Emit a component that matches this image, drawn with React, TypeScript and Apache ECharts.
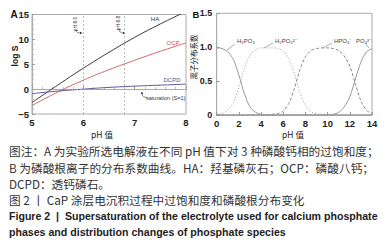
import React, { useEffect, useRef } from "react";
import * as echarts from "echarts";

// Panel A: supersaturation (log S) vs pH
const phA = [5, 5.5, 6, 6.5, 7, 7.5, 8];
const haVals = [-2.7, 0.8, 4.2, 7.4, 10.4, 13.1, 15.6];
const ocpVals = [-3.3, -0.6, 1.8, 3.9, 5.8, 7.6, 9.3];
const dcpdVals = [-0.9, -0.4, 0, 0.35, 0.6, 0.8, 1.0];
const markPh = [6.0, 6.8];

// Panel B: phosphate species distribution vs pH
const phB = [0, 0.5, 1, 1.5, 2, 2.5, 3, 3.5, 4, 4.5, 5, 5.5, 6, 6.5, 7, 7.5, 8, 8.5, 9, 9.5, 10, 10.5, 11, 11.5, 12, 12.5, 13, 13.5, 14];
const h3po4 = [0.99, 0.98, 0.93, 0.82, 0.59, 0.31, 0.12, 0.04, 0.01, 0, 0, 0, 0, 0, 0, 0, 0, 0, 0, 0, 0, 0, 0, 0, 0, 0, 0, 0, 0];
const h2po4 = [0.01, 0.02, 0.07, 0.18, 0.41, 0.69, 0.88, 0.96, 0.99, 0.99, 0.99, 0.98, 0.94, 0.83, 0.61, 0.33, 0.14, 0.05, 0.02, 0.01, 0, 0, 0, 0, 0, 0, 0, 0, 0];
const hpo4 = [0, 0, 0, 0, 0, 0, 0, 0, 0, 0, 0.01, 0.02, 0.06, 0.17, 0.39, 0.67, 0.86, 0.95, 0.98, 0.99, 0.99, 0.98, 0.95, 0.87, 0.72, 0.46, 0.21, 0.07, 0.02];
const po4 = [0, 0, 0, 0, 0, 0, 0, 0, 0, 0, 0, 0, 0, 0, 0, 0, 0, 0, 0, 0, 0, 0.01, 0.04, 0.12, 0.27, 0.53, 0.78, 0.93, 0.98];

const captionLines = [
  "图注：A 为实验所选电解液在不同 pH 值下对 3 种磷酸钙相的过饱和度；",
  "B 为磷酸根离子的分布系数曲线。HA：羟基磷灰石；OCP：磷酸八钙；",
  "DCPD：透钙磷石。",
  "图 2 丨 CaP 涂层电沉积过程中过饱和度和磷酸根分布变化",
];
const figureLines = [
  "Figure 2  |  Supersaturation of the electrolyte used for calcium phosphate",
  "phases and distribution changes of phosphate species",
];

const SANS = "'Liberation Sans', Arial, sans-serif";
const CJK = "'Noto Sans CJK SC', 'Liberation Sans', sans-serif";

export default function App() {
  const ref = useRef<HTMLDivElement>(null);
  useEffect(() => {
    if (!ref.current) return;
    const chart = echarts.init(ref.current, null, { renderer: "svg" });
    const axisLabel = { fontFamily: SANS, fontWeight: "bold", fontSize: 9.5, color: "#222" };
    const axisLine = { show: true, lineStyle: { color: "#aaa", width: 1 } };
    const pairs = (xs: number[], ys: number[]) => xs.map((x, i) => [x, ys[i]]);
    const txt = (x: number, y: number, text: string, o: any = {}) => ({
      type: "text",
      x,
      y,
      rotation: o.rotation || 0,
      silent: true,
      style: {
        text,
        fontSize: o.fontSize || 6,
        fontFamily: o.fontFamily || SANS,
        fontWeight: o.fontWeight || "normal",
        fill: o.fill || "#333",
        textAlign: o.align || "left",
        textVerticalAlign: "middle",
      },
    });
    const ln = (x1: number, y1: number, x2: number, y2: number) => ({
      type: "line",
      silent: true,
      shape: { x1, y1, x2, y2 },
      style: { stroke: "#777", lineWidth: 0.6 },
    });
    const curve = (x1: number, y1: number, cx: number, cy: number, x2: number, y2: number) => ({
      type: "bezierCurve",
      silent: true,
      shape: { x1, y1, cpx1: cx, cpy1: cy, x2, y2 },
      style: { stroke: "#333", lineWidth: 0.6, fill: null },
    });
    const head = (pts: number[][]) => ({
      type: "polygon",
      silent: true,
      shape: { points: pts },
      style: { fill: "#333" },
    });
    const option: any = {
      animation: false,
      grid: [
        { left: 32, top: 14.5, width: 154, height: 99.5, show: true, borderColor: "#aaa", borderWidth: 1 },
        { left: 216.7, top: 13.3, width: 155.3, height: 101.7, show: true, borderColor: "#aaa", borderWidth: 1 },
      ],
      xAxis: [
        {
          gridIndex: 0, type: "value", min: 5, max: 8, interval: 1,
          axisLine, axisTick: { show: true, inside: true, length: 3, lineStyle: { color: "#999" } },
          minorTick: { show: true, splitNumber: 5, length: 2, lineStyle: { color: "#bbb" } },
          splitLine: { show: false }, axisLabel: { ...axisLabel, margin: 3 },
        },
        {
          gridIndex: 1, type: "value", min: 0, max: 14, interval: 2,
          axisLine, axisTick: { show: true, inside: true, length: 3, lineStyle: { color: "#999" } },
          splitLine: { show: false }, axisLabel: { ...axisLabel, margin: 3 },
        },
      ],
      yAxis: [
        {
          gridIndex: 0, type: "value", min: -5, max: 15, interval: 5,
          axisLine, axisTick: { show: true, inside: true, length: 3, lineStyle: { color: "#999" } },
          minorTick: { show: true, splitNumber: 5, length: 2, lineStyle: { color: "#bbb" } },
          splitLine: { show: false },
          axisLabel: { ...axisLabel, margin: 3, formatter: (v: number) => (v < 0 ? "\u2212" + Math.abs(v) : String(v)) },
        },
        {
          gridIndex: 1, type: "value", min: 0, max: 1.5, interval: 0.5,
          axisLine, axisTick: { show: true, inside: true, length: 3, lineStyle: { color: "#999" } },
          splitLine: { show: false },
          axisLabel: { ...axisLabel, fontSize: 9, margin: 4.5, formatter: (v: number) => (v === 0 ? "0" : v.toFixed(1)) },
        },
      ],
      series: [
        {
          name: "HA", type: "line", xAxisIndex: 0, yAxisIndex: 0, smooth: true, showSymbol: false,
          data: pairs(phA, haVals), lineStyle: { color: "#3a3a3a", width: 1 }, clip: true,
          markLine: {
            silent: true, symbol: "none", label: { show: false },
            lineStyle: { color: "#aaa", type: [2, 2], width: 0.8 },
            data: [...markPh.map((p) => ({ xAxis: p })), { yAxis: 0 }],
          },
        },
        {
          name: "OCP", type: "line", xAxisIndex: 0, yAxisIndex: 0, smooth: true, showSymbol: false,
          data: pairs(phA, ocpVals), lineStyle: { color: "#d06a68", width: 1 },
        },
        {
          name: "DCPD", type: "line", xAxisIndex: 0, yAxisIndex: 0, smooth: true, showSymbol: false,
          data: pairs(phA, dcpdVals), lineStyle: { color: "#5a5a9e", width: 1 },
        },
        {
          name: "H3PO4", type: "line", xAxisIndex: 1, yAxisIndex: 1, smooth: 0.3, showSymbol: false,
          data: pairs(phB, h3po4), lineStyle: { color: "#999", width: 1 },
        },
        {
          name: "H2PO4", type: "line", xAxisIndex: 1, yAxisIndex: 1, smooth: 0.3, showSymbol: false,
          data: pairs(phB, h2po4), lineStyle: { color: "#999", width: 1, type: [1, 2] },
        },
        {
          name: "HPO4", type: "line", xAxisIndex: 1, yAxisIndex: 1, smooth: 0.3, showSymbol: false,
          data: pairs(phB, hpo4), lineStyle: { color: "#888", width: 1, type: [3, 2] },
        },
        {
          name: "PO4", type: "line", xAxisIndex: 1, yAxisIndex: 1, smooth: 0.3, showSymbol: false,
          data: pairs(phB, po4), lineStyle: { color: "#999", width: 1 },
        },
      ],
      graphic: [
        txt(10.5, 14, "A", { fontSize: 10, fontWeight: "bold", fill: "#111" }),
        txt(192.5, 14, "B", { fontSize: 9.5, fontWeight: "bold", fill: "#111" }),
        txt(14.5, 56, "log S", { fontSize: 8.5, fontWeight: "bold", fill: "#111", align: "center", rotation: Math.PI / 2 }),
        txt(193, 57, "离子分布系数", { fontSize: 7.5, fontFamily: CJK, fill: "#222", align: "center", rotation: Math.PI / 2 }),
        txt(102, 134, "pH 值", { fontSize: 8.5, fontFamily: CJK, fill: "#222", align: "center" }),
        txt(293, 134, "pH 值", { fontSize: 8.5, fontFamily: CJK, fill: "#222", align: "center" }),
        txt(155, 19, "HA", { fontSize: 6, fill: "#333", align: "center" }),
        txt(173, 43, "OCP", { fontSize: 6, fill: "#c9504d", align: "center" }),
        txt(172, 80, "DCPD", { fontSize: 6, fill: "#4f4f9a", align: "center" }),
        txt(146, 98, "saturation (S=1)", { fontSize: 5.5, fill: "#333" }),
        txt(75, 24, "pH 6.0", { fontSize: 5, fill: "#333", align: "center", rotation: Math.PI / 2 }),
        txt(118, 23, "pH 6.8", { fontSize: 5, fill: "#333", align: "center", rotation: Math.PI / 2 }),
        curve(76, 30, 76, 33, 80.5, 33),
        head([[82.5, 33], [80, 31.8], [80, 34.2]]),
        curve(119, 29, 119, 33, 123.5, 33),
        head([[125.5, 33], [123, 31.8], [123, 34.2]]),
        curve(147, 97.5, 142, 97, 142, 94),
        head([[142, 91.5], [140.8, 94], [143.2, 94]]),
        ln(235, 44, 227, 50),
        ln(273, 43, 264, 48),
        ln(332, 43, 323, 48),
        ln(365, 43, 369, 48),
        txt(237, 41, "H₃PO₄", { fontSize: 6, fill: "#444" }),
        txt(275, 41, "H₂PO₄²⁻", { fontSize: 6, fill: "#444" }),
        txt(334, 41, "HPO₄⁻", { fontSize: 6, fill: "#444" }),
        txt(356, 41, "PO₄³⁻", { fontSize: 6, fill: "#444" }),
        ...captionLines.map((t, i) => txt(9, [150, 167, 183, 199][i], t, { fontSize: 11.7, fontFamily: CJK, fill: "#333" })),
        ...figureLines.map((t, i) => txt(9, [216, 232][i], t, { fontSize: 10.6, fontWeight: "bold", fill: "#222" })),
      ],
    };
    chart.setOption(option);
    return () => chart.dispose();
  }, []);
  return (
    <div
      ref={ref}
      style={{ position: "absolute", left: 0, top: 0, width: 389, height: 247, background: "#fff" }}
    />
  );
}
